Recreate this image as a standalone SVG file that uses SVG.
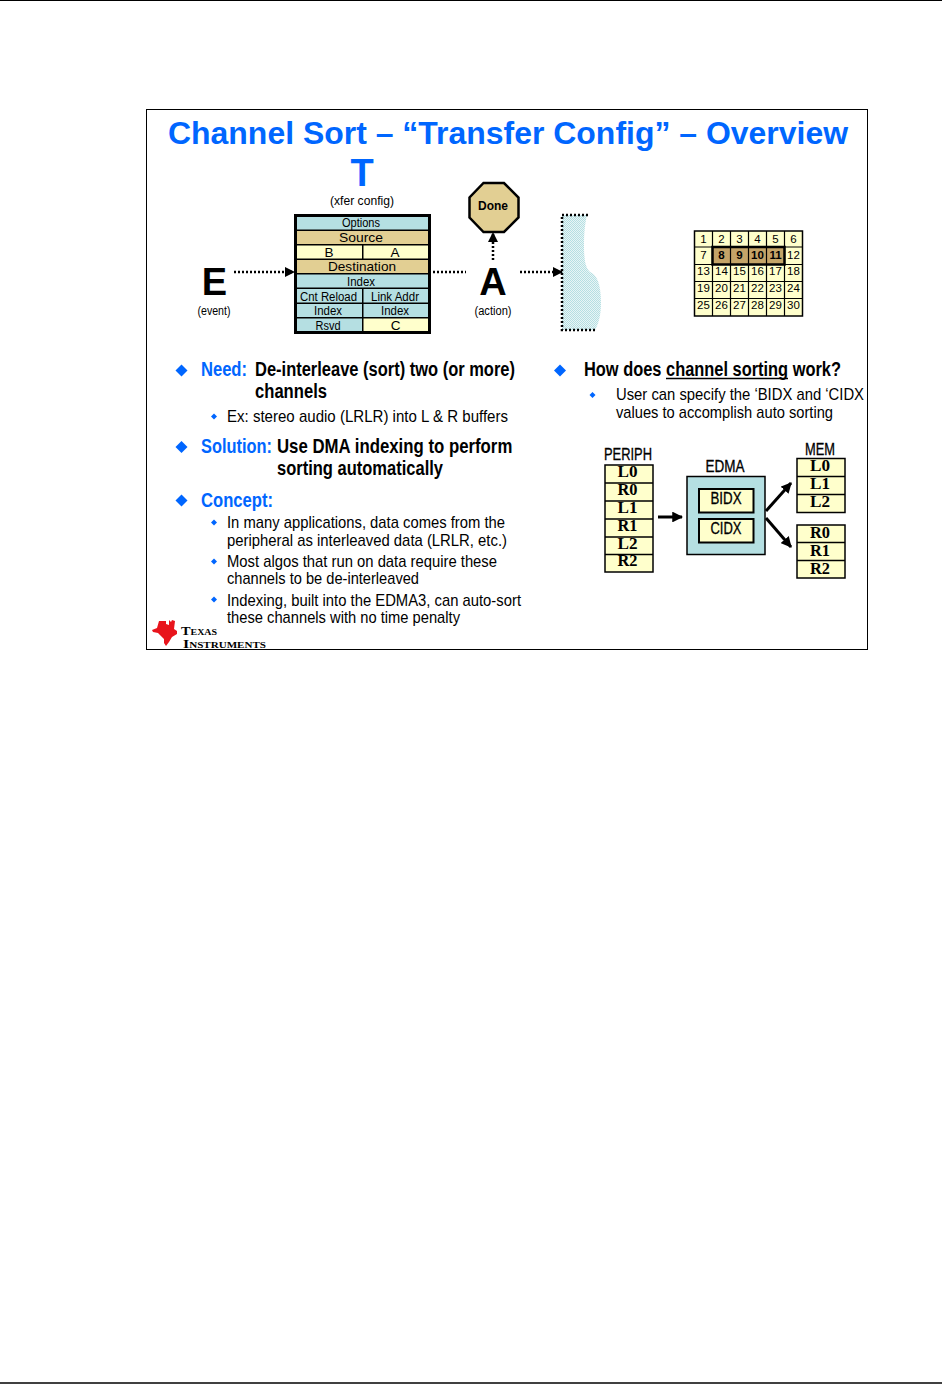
<svg xmlns="http://www.w3.org/2000/svg" width="942" height="1384" viewBox="0 0 942 1384">
<style>
text{font-family:"Liberation Sans",Arial,sans-serif;fill:#000}
.t{fill:#0066ff;font-weight:bold}
.c{text-anchor:middle}
.b{font-weight:bold}
.teal{fill:#b5dfe2}.tan{fill:#e2cf93}.yel{fill:#ffffcc}
.dot{fill:none;stroke:#000;stroke-width:2.5;stroke-dasharray:2 2}
.ar{fill:none;stroke:#000;stroke-width:3}
.s12{font-size:12px}
.g{font-size:11.5px;text-anchor:middle}
.m{font-family:"Liberation Serif",serif;font-size:17px;font-weight:bold;text-anchor:middle}
.h{font-size:16px;text-anchor:middle;stroke:#000;stroke-width:.3}
.bul{fill:#0066ff}
.logo{font-family:"Liberation Serif",serif;font-weight:bold;font-variant:small-caps;font-size:11.5px}
</style>
<defs>
<marker id="ah" viewBox="0 0 10 10" refX="9" refY="5" markerWidth="3.6" markerHeight="3.6" orient="auto" markerUnits="strokeWidth"><path d="M0 0L10 5L0 10Z" fill="#000"/></marker>
<marker id="ad" viewBox="0 0 10 10" refX="9" refY="5" markerWidth="4" markerHeight="4" orient="auto" markerUnits="strokeWidth"><path d="M0 0L10 5L0 10Z" fill="#000"/></marker>
<pattern id="ht" width="2" height="2" patternUnits="userSpaceOnUse"><rect width="2" height="2" fill="#e8f5f6"/><rect width="1" height="1" fill="#b5dfe2"/><rect x="1" y="1" width="1" height="1" fill="#b5dfe2"/></pattern>
</defs>

<g id="page">
<line x1="0" y1="0.5" x2="942" y2="0.5" stroke="#000"/>
<line x1="0" y1="1383" x2="942" y2="1383" stroke="#000" stroke-width="1.500"/>
<rect x="146.500" y="109.500" width="721" height="540" fill="#fff" stroke="#000"/>
</g>

<g id="title">
<text class="t" x="168" y="144" font-size="31" textLength="680" lengthAdjust="spacingAndGlyphs">Channel Sort – “Transfer Config” – Overview</text>
</g>

<g id="node-T">
<text class="t c" x="362" y="186" font-size="38">T</text>
<text class="c s12" x="362" y="205" textLength="64" lengthAdjust="spacingAndGlyphs">(xfer config)</text>
</g>
<g id="node-E">
<text class="c b" x="214.500" y="295" font-size="38">E</text>
<text class="c s12" x="214" y="315" textLength="33" lengthAdjust="spacingAndGlyphs">(event)</text>
</g>
<g id="node-A">
<text class="c b" x="493" y="295" font-size="38">A</text>
<text class="c s12" x="493" y="315" textLength="37" lengthAdjust="spacingAndGlyphs">(action)</text>
</g>

<g id="node-table">
<rect x="295.500" y="215.500" width="134" height="117" fill="#000" stroke="#000" stroke-width="3"/>
<rect class="teal" x="297" y="217" width="131" height="12.500"/>
<rect class="tan" x="297" y="231" width="131" height="13"/>
<rect class="yel" x="297" y="245.500" width="65" height="13"/><rect class="yel" x="363.500" y="245.500" width="64.500" height="13"/>
<rect class="tan" x="297" y="260" width="131" height="13"/>
<rect class="teal" x="297" y="274.500" width="131" height="13"/>
<rect class="teal" x="297" y="289" width="65" height="13.500"/><rect class="teal" x="363.500" y="289" width="64.500" height="13.500"/>
<rect class="teal" x="297" y="304" width="65" height="13"/><rect class="teal" x="363.500" y="304" width="64.500" height="13"/>
<rect class="teal" x="297" y="318.500" width="65" height="12.500"/><rect class="yel" x="363.500" y="318.500" width="64.500" height="12.500"/>
<text class="c s12" x="361" y="226.500" textLength="38" lengthAdjust="spacingAndGlyphs">Options</text>
<text class="c" font-size="13.500" x="361" y="242" textLength="44" lengthAdjust="spacingAndGlyphs">Source</text>
<text class="c" font-size="13.500" x="329" y="256.500">B</text>
<text class="c" font-size="13.500" x="395" y="256.500">A</text>
<text class="c" font-size="13.500" x="362" y="271" textLength="68" lengthAdjust="spacingAndGlyphs">Destination</text>
<text class="c s12" x="361" y="285.500" textLength="28" lengthAdjust="spacingAndGlyphs">Index</text>
<text class="c s12" x="328.500" y="300.500" textLength="57" lengthAdjust="spacingAndGlyphs">Cnt Reload</text>
<text class="c s12" x="395" y="300.500" textLength="48" lengthAdjust="spacingAndGlyphs">Link Addr</text>
<text class="c s12" x="328" y="315" textLength="28" lengthAdjust="spacingAndGlyphs">Index</text>
<text class="c s12" x="395" y="315" textLength="28" lengthAdjust="spacingAndGlyphs">Index</text>
<text class="c s12" x="328" y="329.500" textLength="25" lengthAdjust="spacingAndGlyphs">Rsvd</text>
<text class="c" font-size="13.500" x="395.500" y="329.500">C</text>
</g>

<g id="node-done">
<polygon points="483.500,183 504,183 518.500,197.500 518.500,217.500 504,232 483.500,232 469.500,217.500 469.500,197.500" fill="#e2cf93" stroke="#000" stroke-width="2.500"/>
<text class="c b" x="493" y="210" font-size="12.500" textLength="30" lengthAdjust="spacingAndGlyphs">Done</text>
</g>

<g id="node-buffer">
<path d="M562 215H587C585 224 584 232 584 245C584 262 586 268 590 272C597 274 601 285 601 303C601 316 598 325 595 330H562Z" fill="url(#ht)"/>
<path d="M588 215H562V330H596" fill="none" stroke="#000" stroke-width="2.500" stroke-dasharray="2 2"/>
</g>

<g id="node-grid">
<rect x="694.500" y="231" width="108" height="85" fill="#ffffcc" stroke="#000" stroke-width="1.500"/>
<path d="M712.500 231V316M730.500 231V316M748.500 231V316M766.500 231V316M784.500 231V316M694.500 247H802.500M694.500 264.500H802.500M694.500 281.500H802.500M694.500 298.500H802.500" fill="none" stroke="#000" stroke-width="1.200"/>
<rect x="712.500" y="247" width="72" height="17.500" fill="#c4a468" stroke="#000" stroke-width="2.500"/>
<path d="M730.500 247V264.500M748.500 247V264.500M766.500 247V264.500" fill="none" stroke="#000" stroke-width="1.200"/>
<text class="g" x="703.500" y="242.500">1</text><text class="g" x="721.500" y="242.500">2</text><text class="g" x="739.500" y="242.500">3</text><text class="g" x="757.500" y="242.500">4</text><text class="g" x="775.500" y="242.500">5</text><text class="g" x="793.500" y="242.500">6</text>
<text class="g" x="703.500" y="259">7</text><text class="g b" x="721.500" y="259">8</text><text class="g b" x="739.500" y="259">9</text><text class="g b" x="757.500" y="259">10</text><text class="g b" x="775.500" y="259">11</text><text class="g" x="793.500" y="259">12</text>
<text class="g" x="703.500" y="275">13</text><text class="g" x="721.500" y="275">14</text><text class="g" x="739.500" y="275">15</text><text class="g" x="757.500" y="275">16</text><text class="g" x="775.500" y="275">17</text><text class="g" x="793.500" y="275">18</text>
<text class="g" x="703.500" y="292">19</text><text class="g" x="721.500" y="292">20</text><text class="g" x="739.500" y="292">21</text><text class="g" x="757.500" y="292">22</text><text class="g" x="775.500" y="292">23</text><text class="g" x="793.500" y="292">24</text>
<text class="g" x="703.500" y="309">25</text><text class="g" x="721.500" y="309">26</text><text class="g" x="739.500" y="309">27</text><text class="g" x="757.500" y="309">28</text><text class="g" x="775.500" y="309">29</text><text class="g" x="793.500" y="309">30</text>
</g>

<g id="connectors">
<line class="dot" x1="234" y1="272" x2="294" y2="272" marker-end="url(#ad)"/>
<line class="dot" x1="433" y1="272" x2="466" y2="272"/>
<line class="dot" x1="520" y1="272" x2="562" y2="272" marker-end="url(#ad)"/>
<line class="dot" x1="493" y1="260" x2="493" y2="233" marker-end="url(#ad)"/>
<line class="ar" x1="658" y1="517" x2="682" y2="517" marker-end="url(#ah)"/>
<line class="ar" x1="766" y1="511" x2="791" y2="483" marker-end="url(#ah)"/>
<line class="ar" x1="766" y1="518" x2="791" y2="547" marker-end="url(#ah)"/>
</g>

<g id="left-text">
<path class="bul" d="M181.500 364.500l6 6-6 6-6-6z"/>
<text class="t" x="201" y="376" font-size="20" textLength="46" lengthAdjust="spacingAndGlyphs">Need:</text>
<text class="b" x="255" y="376" font-size="20" textLength="260" lengthAdjust="spacingAndGlyphs">De-interleave (sort) two (or more)</text>
<text class="b" x="255" y="398" font-size="20" textLength="72" lengthAdjust="spacingAndGlyphs">channels</text>
<path class="bul" d="M214 413.500l3 3-3 3-3-3z"/>
<text x="227" y="422" font-size="17" textLength="281" lengthAdjust="spacingAndGlyphs">Ex:  stereo audio (LRLR) into L &amp; R buffers</text>
<path class="bul" d="M181.500 441l6 6-6 6-6-6z"/>
<text class="t" transform="translate(201 453) scale(.82 1)" font-size="20">Solution:</text>
<text class="b" transform="translate(277 453) scale(.84 1)" font-size="20">Use DMA indexing to perform</text>
<text class="b" x="277" y="475" font-size="20" textLength="166" lengthAdjust="spacingAndGlyphs">sorting automatically</text>
<path class="bul" d="M181.500 494.500l6 6-6 6-6-6z"/>
<text class="t" x="201" y="507" font-size="20" textLength="72" lengthAdjust="spacingAndGlyphs">Concept:</text>
<path class="bul" d="M214 519.500l3 3-3 3-3-3z"/>
<text x="227" y="528" font-size="17" textLength="278" lengthAdjust="spacingAndGlyphs">In many applications,  data comes from the</text>
<text x="227" y="546" font-size="17" textLength="280" lengthAdjust="spacingAndGlyphs">peripheral  as interleaved  data (LRLR, etc.)</text>
<path class="bul" d="M214 558.500l3 3-3 3-3-3z"/>
<text x="227" y="567" font-size="17" textLength="270" lengthAdjust="spacingAndGlyphs">Most algos  that run on data require  these</text>
<text x="227" y="584" font-size="17" textLength="192" lengthAdjust="spacingAndGlyphs">channels  to be de-interleaved</text>
<path class="bul" d="M214 596.500l3 3-3 3-3-3z"/>
<text x="227" y="606" font-size="17" textLength="294" lengthAdjust="spacingAndGlyphs">Indexing,  built into the EDMA3,  can auto-sort</text>
<text x="227" y="623" font-size="17" textLength="233" lengthAdjust="spacingAndGlyphs">these channels  with no time penalty</text>
</g>

<g id="right-text">
<path class="bul" d="M560 364.500l6 6-6 6-6-6z"/>
<text class="b" x="584" y="376" font-size="20" textLength="257" lengthAdjust="spacingAndGlyphs">How does channel sorting work?</text>
<line x1="666" y1="378.500" x2="788" y2="378.500" stroke="#000" stroke-width="1.500"/>
<path class="bul" d="M592.500 392l3 3-3 3-3-3z"/>
<text x="616" y="400" font-size="17" textLength="248" lengthAdjust="spacingAndGlyphs">User can specify  the ‘BIDX and ‘CIDX</text>
<text x="616" y="418" font-size="17" textLength="217" lengthAdjust="spacingAndGlyphs">values  to accomplish  auto sorting</text>
</g>

<g id="node-periph">
<text class="h" x="628" y="460" textLength="48" lengthAdjust="spacingAndGlyphs">PERIPH</text>
<rect x="605" y="465" width="48" height="107" fill="#ffffcc" stroke="#000" stroke-width="1.500"/>
<path d="M605 483H653M605 501H653M605 519H653M605 537H653M605 554.500H653" stroke="#000" stroke-width="1.500" fill="none"/>
<text class="m" x="627.500" y="477" textLength="20" lengthAdjust="spacingAndGlyphs">L0</text><text class="m" x="627.500" y="495" textLength="20" lengthAdjust="spacingAndGlyphs">R0</text><text class="m" x="627.500" y="513" textLength="20" lengthAdjust="spacingAndGlyphs">L1</text><text class="m" x="627.500" y="531" textLength="20" lengthAdjust="spacingAndGlyphs">R1</text><text class="m" x="627.500" y="549" textLength="20" lengthAdjust="spacingAndGlyphs">L2</text><text class="m" x="627.500" y="566" textLength="20" lengthAdjust="spacingAndGlyphs">R2</text>
</g>

<g id="node-edma">
<text class="h" x="725" y="472" textLength="39" lengthAdjust="spacingAndGlyphs">EDMA</text>
<rect x="687" y="476.500" width="78" height="78" fill="#b5dfe2" stroke="#000" stroke-width="1.500"/>
<rect x="699" y="489" width="54.500" height="23.500" fill="#ffffcc" stroke="#000" stroke-width="2"/>
<rect x="699" y="519" width="54.500" height="23.500" fill="#ffffcc" stroke="#000" stroke-width="2"/>
<text class="h" x="726" y="504" textLength="31" lengthAdjust="spacingAndGlyphs">BIDX</text>
<text class="h" x="726" y="534" textLength="31" lengthAdjust="spacingAndGlyphs">CIDX</text>
</g>

<g id="node-mem">
<text class="h" x="820" y="455" textLength="30" lengthAdjust="spacingAndGlyphs">MEM</text>
<rect x="797" y="458.500" width="48" height="54" fill="#ffffcc" stroke="#000" stroke-width="1.500"/>
<path d="M797 476.500H845M797 494.500H845" stroke="#000" stroke-width="1.500" fill="none"/>
<text class="m" x="820" y="471" textLength="20" lengthAdjust="spacingAndGlyphs">L0</text><text class="m" x="820" y="489" textLength="20" lengthAdjust="spacingAndGlyphs">L1</text><text class="m" x="820" y="507" textLength="20" lengthAdjust="spacingAndGlyphs">L2</text>
<rect x="797" y="525" width="48" height="53" fill="#ffffcc" stroke="#000" stroke-width="1.500"/>
<path d="M797 542.500H845M797 560.500H845" stroke="#000" stroke-width="1.500" fill="none"/>
<text class="m" x="820" y="538" textLength="20" lengthAdjust="spacingAndGlyphs">R0</text><text class="m" x="820" y="556" textLength="20" lengthAdjust="spacingAndGlyphs">R1</text><text class="m" x="820" y="574" textLength="20" lengthAdjust="spacingAndGlyphs">R2</text>
</g>

<g id="logo">
<path d="M159 621H166V624L169 625V620L171 622L172 620L175 621L174 629L177 631V634L172 637L169 642L166 646L164 643L164 639L158 633L153 632L152 630L157 628Z" fill="#e8141c"/>
<text class="logo" x="181" y="634.500" textLength="36" lengthAdjust="spacingAndGlyphs">Texas</text>
<text class="logo" x="183" y="647.500" textLength="83" lengthAdjust="spacingAndGlyphs">Instruments</text>
</g>
</svg>
